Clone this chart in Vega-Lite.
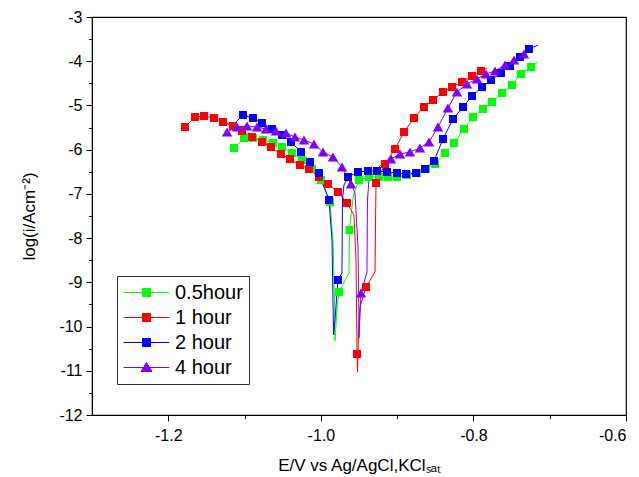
{
  "$schema": "https://vega.github.io/schema/vega-lite/v6.json",
  "width": 534,
  "height": 398,
  "autosize": "none",
  "padding": {"left": 92, "top": 17, "right": 13, "bottom": 62},
  "background": "white",
  "config": {
    "view": {"stroke": "black", "strokeWidth": 1.2},
    "font": "Liberation Sans",
    "axis": {"grid": false, "domainColor": "black", "tickColor": "black", "labelColor": "black", "titleColor": "black", "labelFont": "Liberation Sans", "titleFont": "Liberation Sans", "titleFontWeight": "normal", "labelFontSize": 16, "titleFontSize": 17}
  },
  "data": {"values": [
    {"series":"0.5hour","E":-1.1139,"logI":-5.962,"sym":1},
    {"series":"0.5hour","E":-1.1008,"logI":-5.736,"sym":1},
    {"series":"0.5hour","E":-1.0890,"logI":-5.736,"sym":1},
    {"series":"0.5hour","E":-1.0759,"logI":-5.782,"sym":1},
    {"series":"0.5hour","E":-1.0627,"logI":-5.849,"sym":1},
    {"series":"0.5hour","E":-1.0509,"logI":-5.940,"sym":1},
    {"series":"0.5hour","E":-1.0378,"logI":-6.075,"sym":1},
    {"series":"0.5hour","E":-1.0247,"logI":-6.234,"sym":1},
    {"series":"0.5hour","E":-1.0116,"logI":-6.437,"sym":1},
    {"series":"0.5hour","E":-0.9998,"logI":-6.686,"sym":1},
    {"series":"0.5hour","E":-0.9880,"logI":-7.184,"sym":1},
    {"series":"0.5hour","E":-0.9841,"logI":-8.043,"sym":0},
    {"series":"0.5hour","E":-0.9821,"logI":-9.400,"sym":0},
    {"series":"0.5hour","E":-0.9815,"logI":-10.327,"sym":0},
    {"series":"0.5hour","E":-0.9789,"logI":-9.626,"sym":0},
    {"series":"0.5hour","E":-0.9762,"logI":-9.219,"sym":1},
    {"series":"0.5hour","E":-0.9631,"logI":-8.789,"sym":0},
    {"series":"0.5hour","E":-0.9625,"logI":-7.817,"sym":1},
    {"series":"0.5hour","E":-0.9573,"logI":-7.025,"sym":0},
    {"series":"0.5hour","E":-0.9500,"logI":-6.686,"sym":1},
    {"series":"0.5hour","E":-0.9369,"logI":-6.618,"sym":1},
    {"series":"0.5hour","E":-0.9238,"logI":-6.618,"sym":1},
    {"series":"0.5hour","E":-0.9120,"logI":-6.618,"sym":1},
    {"series":"0.5hour","E":-0.9002,"logI":-6.618,"sym":1},
    {"series":"0.5hour","E":-0.8871,"logI":-6.573,"sym":1},
    {"series":"0.5hour","E":-0.8740,"logI":-6.528,"sym":1},
    {"series":"0.5hour","E":-0.8622,"logI":-6.437,"sym":1},
    {"series":"0.5hour","E":-0.8504,"logI":-6.324,"sym":1},
    {"series":"0.5hour","E":-0.8373,"logI":-6.075,"sym":1},
    {"series":"0.5hour","E":-0.8255,"logI":-5.849,"sym":1},
    {"series":"0.5hour","E":-0.8124,"logI":-5.533,"sym":1},
    {"series":"0.5hour","E":-0.8006,"logI":-5.261,"sym":1},
    {"series":"0.5hour","E":-0.7875,"logI":-5.080,"sym":1},
    {"series":"0.5hour","E":-0.7757,"logI":-4.922,"sym":1},
    {"series":"0.5hour","E":-0.7626,"logI":-4.719,"sym":1},
    {"series":"0.5hour","E":-0.7495,"logI":-4.538,"sym":1},
    {"series":"0.5hour","E":-0.7377,"logI":-4.289,"sym":1},
    {"series":"0.5hour","E":-0.7246,"logI":-4.131,"sym":1},
    {"series":"0.5hour","E":-0.7154,"logI":-4.018,"sym":0},

    {"series":"1 hour","E":-1.1781,"logI":-5.487,"sym":1},
    {"series":"1 hour","E":-1.1650,"logI":-5.261,"sym":1},
    {"series":"1 hour","E":-1.1532,"logI":-5.239,"sym":1},
    {"series":"1 hour","E":-1.1401,"logI":-5.284,"sym":1},
    {"series":"1 hour","E":-1.1283,"logI":-5.374,"sym":1},
    {"series":"1 hour","E":-1.1152,"logI":-5.465,"sym":1},
    {"series":"1 hour","E":-1.1034,"logI":-5.578,"sym":1},
    {"series":"1 hour","E":-1.0903,"logI":-5.714,"sym":1},
    {"series":"1 hour","E":-1.0772,"logI":-5.827,"sym":1},
    {"series":"1 hour","E":-1.0654,"logI":-5.940,"sym":1},
    {"series":"1 hour","E":-1.0523,"logI":-6.098,"sym":1},
    {"series":"1 hour","E":-1.0405,"logI":-6.211,"sym":1},
    {"series":"1 hour","E":-1.0274,"logI":-6.347,"sym":1},
    {"series":"1 hour","E":-1.0156,"logI":-6.437,"sym":1},
    {"series":"1 hour","E":-1.0025,"logI":-6.618,"sym":1},
    {"series":"1 hour","E":-0.9907,"logI":-6.777,"sym":1},
    {"series":"1 hour","E":-0.9775,"logI":-6.957,"sym":1},
    {"series":"1 hour","E":-0.9657,"logI":-7.206,"sym":1},
    {"series":"1 hour","E":-0.9566,"logI":-7.478,"sym":0},
    {"series":"1 hour","E":-0.9539,"logI":-8.495,"sym":0},
    {"series":"1 hour","E":-0.9526,"logI":-10.621,"sym":1},
    {"series":"1 hour","E":-0.9520,"logI":-11.028,"sym":0},
    {"series":"1 hour","E":-0.9507,"logI":-10.236,"sym":0},
    {"series":"1 hour","E":-0.9487,"logI":-9.558,"sym":0},
    {"series":"1 hour","E":-0.9408,"logI":-9.106,"sym":1},
    {"series":"1 hour","E":-0.9290,"logI":-8.767,"sym":0},
    {"series":"1 hour","E":-0.9284,"logI":-7.817,"sym":0},
    {"series":"1 hour","E":-0.9277,"logI":-6.754,"sym":1},
    {"series":"1 hour","E":-0.9159,"logI":-6.324,"sym":1},
    {"series":"1 hour","E":-0.9028,"logI":-5.985,"sym":1},
    {"series":"1 hour","E":-0.8910,"logI":-5.601,"sym":1},
    {"series":"1 hour","E":-0.8779,"logI":-5.284,"sym":1},
    {"series":"1 hour","E":-0.8648,"logI":-5.035,"sym":1},
    {"series":"1 hour","E":-0.8530,"logI":-4.877,"sym":1},
    {"series":"1 hour","E":-0.8399,"logI":-4.696,"sym":1},
    {"series":"1 hour","E":-0.8281,"logI":-4.583,"sym":1},
    {"series":"1 hour","E":-0.8150,"logI":-4.470,"sym":1},
    {"series":"1 hour","E":-0.8019,"logI":-4.334,"sym":1},
    {"series":"1 hour","E":-0.7901,"logI":-4.221,"sym":1},
    {"series":"1 hour","E":-0.7822,"logI":-4.153,"sym":0},

    {"series":"2 hour","E":-1.1139,"logI":-5.420,"sym":0},
    {"series":"2 hour","E":-1.1021,"logI":-5.216,"sym":1},
    {"series":"2 hour","E":-1.0890,"logI":-5.284,"sym":1},
    {"series":"2 hour","E":-1.0772,"logI":-5.397,"sym":1},
    {"series":"2 hour","E":-1.0641,"logI":-5.533,"sym":1},
    {"series":"2 hour","E":-1.0509,"logI":-5.668,"sym":1},
    {"series":"2 hour","E":-1.0392,"logI":-5.827,"sym":1},
    {"series":"2 hour","E":-1.0260,"logI":-6.053,"sym":1},
    {"series":"2 hour","E":-1.0142,"logI":-6.279,"sym":1},
    {"series":"2 hour","E":-1.0025,"logI":-6.528,"sym":1},
    {"series":"2 hour","E":-0.9893,"logI":-7.138,"sym":1},
    {"series":"2 hour","E":-0.9854,"logI":-8.043,"sym":0},
    {"series":"2 hour","E":-0.9841,"logI":-9.400,"sym":0},
    {"series":"2 hour","E":-0.9834,"logI":-10.191,"sym":0},
    {"series":"2 hour","E":-0.9815,"logI":-9.852,"sym":0},
    {"series":"2 hour","E":-0.9776,"logI":-8.947,"sym":1},
    {"series":"2 hour","E":-0.9723,"logI":-8.789,"sym":0},
    {"series":"2 hour","E":-0.9717,"logI":-7.138,"sym":0},
    {"series":"2 hour","E":-0.9697,"logI":-6.799,"sym":0},
    {"series":"2 hour","E":-0.9644,"logI":-6.618,"sym":1},
    {"series":"2 hour","E":-0.9513,"logI":-6.505,"sym":1},
    {"series":"2 hour","E":-0.9382,"logI":-6.483,"sym":1},
    {"series":"2 hour","E":-0.9264,"logI":-6.483,"sym":1},
    {"series":"2 hour","E":-0.9133,"logI":-6.505,"sym":1},
    {"series":"2 hour","E":-0.9002,"logI":-6.528,"sym":1},
    {"series":"2 hour","E":-0.8884,"logI":-6.550,"sym":1},
    {"series":"2 hour","E":-0.8753,"logI":-6.528,"sym":1},
    {"series":"2 hour","E":-0.8635,"logI":-6.437,"sym":1},
    {"series":"2 hour","E":-0.8517,"logI":-6.256,"sym":1},
    {"series":"2 hour","E":-0.8399,"logI":-5.759,"sym":1},
    {"series":"2 hour","E":-0.8268,"logI":-5.307,"sym":1},
    {"series":"2 hour","E":-0.8137,"logI":-5.035,"sym":1},
    {"series":"2 hour","E":-0.8019,"logI":-4.786,"sym":1},
    {"series":"2 hour","E":-0.7888,"logI":-4.583,"sym":1},
    {"series":"2 hour","E":-0.7770,"logI":-4.425,"sym":1},
    {"series":"2 hour","E":-0.7639,"logI":-4.266,"sym":1},
    {"series":"2 hour","E":-0.7521,"logI":-4.108,"sym":1},
    {"series":"2 hour","E":-0.7390,"logI":-3.905,"sym":1},
    {"series":"2 hour","E":-0.7272,"logI":-3.724,"sym":1},
    {"series":"2 hour","E":-0.7154,"logI":-3.633,"sym":0},

    {"series":"4 hour","E":-1.1230,"logI":-5.601,"sym":1},
    {"series":"4 hour","E":-1.1099,"logI":-5.488,"sym":1},
    {"series":"4 hour","E":-1.0968,"logI":-5.465,"sym":1},
    {"series":"4 hour","E":-1.0837,"logI":-5.488,"sym":1},
    {"series":"4 hour","E":-1.0719,"logI":-5.533,"sym":1},
    {"series":"4 hour","E":-1.0588,"logI":-5.578,"sym":1},
    {"series":"4 hour","E":-1.0457,"logI":-5.623,"sym":1},
    {"series":"4 hour","E":-1.0339,"logI":-5.714,"sym":1},
    {"series":"4 hour","E":-1.0221,"logI":-5.782,"sym":1},
    {"series":"4 hour","E":-1.0090,"logI":-5.872,"sym":1},
    {"series":"4 hour","E":-0.9972,"logI":-6.053,"sym":1},
    {"series":"4 hour","E":-0.9841,"logI":-6.166,"sym":1},
    {"series":"4 hour","E":-0.9723,"logI":-6.392,"sym":1},
    {"series":"4 hour","E":-0.9605,"logI":-6.777,"sym":1},
    {"series":"4 hour","E":-0.9553,"logI":-6.980,"sym":0},
    {"series":"4 hour","E":-0.9513,"logI":-8.201,"sym":0},
    {"series":"4 hour","E":-0.9504,"logI":-9.400,"sym":0},
    {"series":"4 hour","E":-0.9500,"logI":-10.259,"sym":0},
    {"series":"4 hour","E":-0.9487,"logI":-9.739,"sym":0},
    {"series":"4 hour","E":-0.9474,"logI":-9.242,"sym":1},
    {"series":"4 hour","E":-0.9395,"logI":-8.767,"sym":0},
    {"series":"4 hour","E":-0.9389,"logI":-7.138,"sym":0},
    {"series":"4 hour","E":-0.9369,"logI":-6.686,"sym":0},
    {"series":"4 hour","E":-0.9225,"logI":-6.369,"sym":0},
    {"series":"4 hour","E":-0.9081,"logI":-6.211,"sym":1},
    {"series":"4 hour","E":-0.8963,"logI":-6.098,"sym":1},
    {"series":"4 hour","E":-0.8832,"logI":-6.053,"sym":1},
    {"series":"4 hour","E":-0.8701,"logI":-5.962,"sym":1},
    {"series":"4 hour","E":-0.8583,"logI":-5.827,"sym":1},
    {"series":"4 hour","E":-0.8465,"logI":-5.488,"sym":1},
    {"series":"4 hour","E":-0.8334,"logI":-5.058,"sym":1},
    {"series":"4 hour","E":-0.8216,"logI":-4.696,"sym":1},
    {"series":"4 hour","E":-0.8084,"logI":-4.515,"sym":1},
    {"series":"4 hour","E":-0.7953,"logI":-4.402,"sym":1},
    {"series":"4 hour","E":-0.7835,"logI":-4.289,"sym":1},
    {"series":"4 hour","E":-0.7717,"logI":-4.221,"sym":1},
    {"series":"4 hour","E":-0.7586,"logI":-4.085,"sym":1},
    {"series":"4 hour","E":-0.7468,"logI":-3.972,"sym":1},
    {"series":"4 hour","E":-0.7337,"logI":-3.837,"sym":1},
    {"series":"4 hour","E":-0.7285,"logI":-3.791,"sym":0}
  ]},
  "encoding": {
    "color": {
      "field": "series", "type": "nominal",
      "scale": {"domain": ["0.5hour", "1 hour", "2 hour", "4 hour"], "range": ["#00ff00", "#ff0000", "#0000ff", "#8000ff"]},
      "legend": {
        "title": null, "orient": "none", "legendX": 25, "legendY": 259,
        "strokeColor": "#333333", "fillColor": "white", "padding": 6,
        "labelFont": "Liberation Sans", "labelFontSize": 20, "labelColor": "black",
        "symbolSize": 400, "symbolOffset": 13, "labelOffset": 18, "rowPadding": 4,
        "symbolStrokeWidth": 1,
        "encode": {
          "symbols": {
            "update": {
              "shape": {"signal": "datum.value === '4 hour' ? 'M-2.3,0H2.3M0,-0.5L0.55,0.4H-0.55Z' : 'M-2.3,0H2.3M-0.4,-0.4H0.4V0.4H-0.4Z'"},
              "stroke": {"signal": "scale('color', datum.value)"},
              "fill": {"signal": "scale('color', datum.value)"},
              "strokeWidth": {"value": 1},
              "opacity": {"value": 1}
            }
          }
        }
      }
    }
  },
  "layer": [
    {
      "mark": {"type": "line", "strokeWidth": 1},
      "encoding": {
        "x": {"field": "E", "type": "quantitative", "scale": {"domain": [-1.3, -0.6], "nice": false, "zero": false},
          "axis": {"orient": "bottom", "title": "E/V vs Ag/AgCl,KClₛₐₜ", "values": [-1.2, -1.0, -0.8, -0.6], "format": ".1f", "labelExpr": "replace(datum.label, '−', '-')", "tickSize": 6, "labelPadding": 6, "titlePadding": 14, "domain": true}},
        "y": {"field": "logI", "type": "quantitative", "scale": {"domain": [-12, -3], "nice": false, "zero": false},
          "axis": {"orient": "left", "title": "log(i/Acm⁻²)", "values": [-12, -11, -10, -9, -8, -7, -6, -5, -4, -3], "format": "d", "labelExpr": "replace(datum.label, '−', '-')", "tickSize": 6, "labelPadding": 4, "titlePadding": 20, "domain": true}}
      }
    },
    {
      "transform": [{"filter": "datum.sym === 1 && datum.series !== '4 hour'"}],
      "mark": {"type": "point", "shape": "square", "filled": true, "size": 64, "opacity": 1},
      "encoding": {
        "x": {"field": "E", "type": "quantitative", "scale": {"domain": [-1.3, -0.6], "nice": false, "zero": false},
          "axis": {"orient": "bottom", "title": null, "values": [-1.1, -0.9, -0.7], "labels": false, "domain": false, "tickSize": 3.5}},
        "y": {"field": "logI", "type": "quantitative", "scale": {"domain": [-12, -3], "nice": false, "zero": false},
          "axis": {"orient": "left", "title": null, "values": [-11.5, -10.5, -9.5, -8.5, -7.5, -6.5, -5.5, -4.5, -3.5], "labels": false, "domain": false, "tickSize": 3.5}}
      }
    },
    {
      "transform": [{"filter": "datum.sym === 1 && datum.series === '4 hour'"}],
      "mark": {"type": "point", "shape": "triangle-up", "filled": true, "size": 110, "opacity": 1},
      "encoding": {
        "x": {"field": "E", "type": "quantitative", "scale": {"domain": [-1.3, -0.6], "nice": false, "zero": false}, "axis": null},
        "y": {"field": "logI", "type": "quantitative", "scale": {"domain": [-12, -3], "nice": false, "zero": false}, "axis": null}
      }
    }
  ],
  "resolve": {"axis": {"x": "independent", "y": "independent"}}
}
